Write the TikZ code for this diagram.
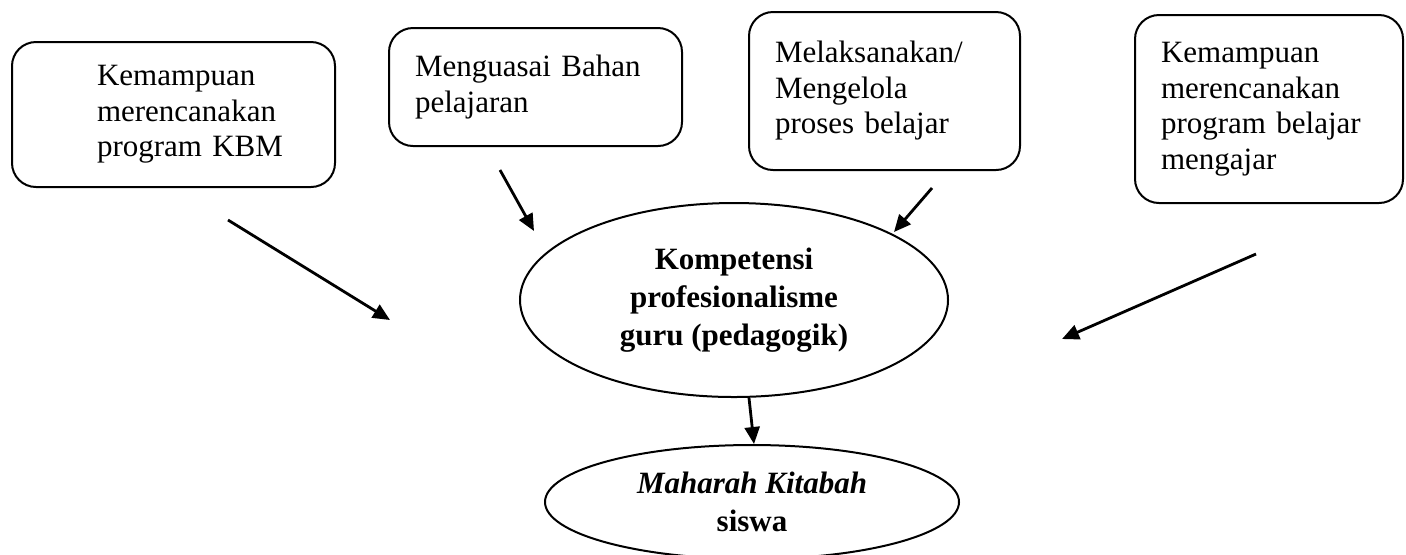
\documentclass[tikz,border=0pt]{standalone}
\usepackage{fontspec}
\setmainfont{Liberation Serif}
\usetikzlibrary{arrows.meta,shapes.geometric}
\begin{document}
\begin{tikzpicture}[
    x=0.5pt, y=-0.5pt,
    font=\fontsize{15.5}{17.75}\selectfont,
    arrowstyle/.style={draw, line width=1.4pt, -{Triangle[length=8.5pt, width=7.5pt]}},
    kotak/.style={rectangle, draw, line width=1pt, rounded corners=12pt, align=left,
        inner xsep=13pt, inner ysep=0pt},
    lingkaran/.style={ellipse, draw, line width=1pt, align=center, inner sep=0pt,
        font=\fontsize{15.5}{19}\selectfont\bfseries}
]
\useasboundingbox (0,0) rectangle (1406,554);
\node (Program) [kotak, text width=135.5pt, minimum height=72.5pt] at (173.5,114.5)
  {\hspace*{29.5pt}Kemampuan\\ \hspace*{29.5pt}merencanakan\\ \hspace*{29.5pt}program KBM};
\node (Bahan) [kotak, text width=120.5pt, minimum height=59pt] at (535.5,87)
  {Menguasai Bahan\\ pelajaran};
\node (Proses) [kotak, text width=109.5pt, minimum height=79pt] at (884.5,91)
  {Melaksanakan/\\ Mengelola\\ proses belajar};
\node (Mengajar) [kotak, text width=108pt, minimum height=94pt] at (1269,109)
  {Kemampuan\\ merencanakan\\ program belajar\\ mengajar};
\node (Kompetensi) [lingkaran, minimum width=214pt, minimum height=97pt] at (734,300)
  {Kompetensi\\ profesionalisme\\ guru (pedagogik)};
\node (Maharah) [lingkaran, minimum width=207pt, minimum height=57pt] at (752,502)
  {{\itshape Maharah Kitabah}\\ siswa};
\coordinate (Awal1) at (228,220);
\coordinate (Ujung1) at (390,320);
\coordinate (Awal2) at (500,170);
\coordinate (Ujung2) at (534,231);
\coordinate (Awal3) at (932,188);
\coordinate (Ujung3) at (894,232);
\coordinate (Awal4) at (1256,254);
\coordinate (Ujung4) at (1062,339);
\draw[arrowstyle] (Awal1) -- (Ujung1);
\draw[arrowstyle] (Awal2) -- (Ujung2);
\draw[arrowstyle] (Awal3) -- (Ujung3);
\draw[arrowstyle] (Awal4) -- (Ujung4);
\draw[arrowstyle] ([xshift=7.5pt]Kompetensi.south) -- ([xshift=1pt]Maharah.north);
\end{tikzpicture}
\end{document}
